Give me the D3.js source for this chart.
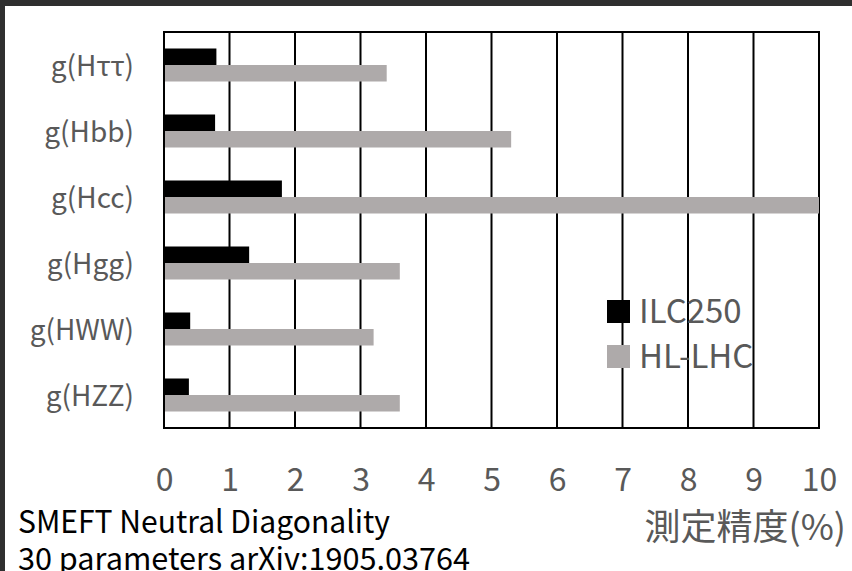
<!DOCTYPE html>
<html>
<head>
<meta charset="utf-8">
<script src="https://cdn.jsdelivr.net/npm/d3@7"></script>
<style>
html,body{margin:0;padding:0;background:#fff;}
svg{display:block;}
text{font-family:"Noto Sans CJK JP","Noto Sans",sans-serif;}
</style>
</head>
<body>
<svg id="chart" width="852" height="571"></svg>
<script>
const categories = ["g(Hττ)", "g(Hbb)", "g(Hcc)", "g(Hgg)", "g(HWW)", "g(HZZ)"];
const seriesNames = ["ILC250", "HL-LHC"];
const ilc250 = [0.80, 0.78, 1.80, 1.30, 0.40, 0.38];
const hllhc = [3.40, 5.30, 10.0, 3.60, 3.20, 3.60];
const xTicks = [0, 1, 2, 3, 4, 5, 6, 7, 8, 9, 10];
const colors = ["#000000", "#AEAAAA"];
const xAxisTitle = "測定精度(%)";
const noteLines = ["SMEFT Neutral Diagonality", "30 parameters arXiv:1905.03764"];

(function () {
const svg = d3.select("#chart");
const W = 852, H = 571;
const pL = 164, pR = 819, pT = 32, pB = 428;
const FF = '"Noto Sans CJK JP","Noto Sans",sans-serif';

svg.append("rect").attr("x", 0).attr("y", 0).attr("width", W).attr("height", H).attr("fill", "#fff");
svg.append("rect").attr("x", 0).attr("y", 0).attr("width", W).attr("height", 6).attr("fill", "#2f2f2f");
svg.append("rect").attr("x", 0).attr("y", 0).attr("width", 5).attr("height", H).attr("fill", "#2f2f2f");

const x = d3.scaleLinear().domain([0, 10]).range([pL, pR]);
const y = d3.scaleBand().domain(categories).range([pT, pB]).paddingInner(0).paddingOuter(0);
const ys = d3.scaleBand().domain(seriesNames).range([0, y.bandwidth()]).paddingInner(0).paddingOuter(1);

const grid = svg.append("g");
grid.selectAll("line").data(xTicks).join("line")
  .attr("x1", d => x(d)).attr("x2", d => x(d))
  .attr("y1", pT).attr("y2", pB)
  .attr("stroke", "#000").attr("stroke-width", 2);
grid.append("line").attr("x1", pL - 1).attr("x2", pR + 1).attr("y1", pT).attr("y2", pT).attr("stroke", "#000").attr("stroke-width", 2);
grid.append("line").attr("x1", pL - 1).attr("x2", pR + 1).attr("y1", pB).attr("y2", pB).attr("stroke", "#000").attr("stroke-width", 2);

const data = [ilc250, hllhc];
data.forEach((vals, si) => {
  svg.append("g").selectAll("rect").data(categories).join("rect")
    .attr("x", x(0) + 1)
    .attr("y", c => y(c) + ys(seriesNames[si]))
    .attr("width", (c, i) => Math.max(0, x(Math.min(vals[i], 10)) - x(0) - 1))
    .attr("height", ys.bandwidth())
    .attr("fill", colors[si]);
});

const xAxis = d3.axisBottom(x).tickValues(xTicks).tickSize(0).tickPadding(0).tickFormat(d3.format("d"));
const xg = svg.append("g").attr("transform", `translate(0,${pB})`).call(xAxis);
xg.select(".domain").remove();
xg.selectAll("text").attr("font-size", 32).attr("fill", "#595959")
  .attr("dy", null).attr("y", 63).style("font-family", FF);

const yAxis = d3.axisLeft(y).tickSize(0).tickPadding(30);
const yg = svg.append("g").attr("transform", `translate(${pL},2)`).call(yAxis);
yg.select(".domain").remove();
yg.selectAll("text").attr("font-size", 28).attr("fill", "#595959").style("font-family", FF);

const legend = svg.append("g");
seriesNames.forEach((s, i) => {
  const ly = 300 + i * 45;
  legend.append("rect").attr("x", 607).attr("y", ly).attr("width", 23).attr("height", 23).attr("fill", colors[i]);
  legend.append("text").attr("x", 639).attr("y", ly + 23).attr("font-size", 33).attr("fill", "#595959").text(s);
});

svg.append("text").attr("x", 846).attr("y", 540).attr("text-anchor", "end")
  .attr("font-size", 36).attr("fill", "#595959").text(xAxisTitle);

const noteLens = [372, 452];
noteLines.forEach((t, i) => {
  svg.append("text").attr("x", 18).attr("y", 533 + i * 37).attr("font-size", 31).attr("fill", "#000")
    .attr("textLength", noteLens[i]).attr("lengthAdjust", "spacingAndGlyphs").text(t);
});
})();
</script>
</body>
</html>
